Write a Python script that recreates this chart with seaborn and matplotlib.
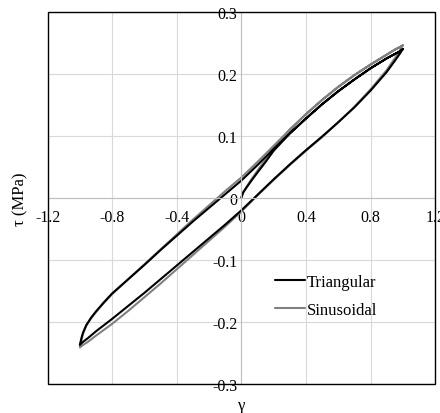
import pandas as pd
import matplotlib
matplotlib.use("Agg")
import matplotlib.pyplot as plt
import seaborn as sns
from matplotlib.patches import Rectangle

# strain points of each branch (initial loading, unloading, reloading)
init_gamma = [0.0, 0.01, 0.03, 0.06, 0.10, 0.15, 0.20]
unload_gamma = [1.00, 0.98, 0.95, 0.90, 0.80, 0.70, 0.60, 0.50, 0.40, 0.30, 0.20, 0.10, 0.00,
                -0.10, -0.20, -0.30, -0.40, -0.50, -0.60, -0.70, -0.80, -0.90, -0.95, -0.98, -1.00]
reload_gamma = [-1.00, -0.99, -0.98, -0.96, -0.93, -0.90, -0.85, -0.80, -0.70, -0.60, -0.50, -0.40,
                -0.30, -0.20, -0.10, 0.00, 0.10, 0.20, 0.30, 0.40, 0.50, 0.60, 0.70, 0.80, 0.90, 0.95, 0.98, 1.00]

# Triangular loading, shear stress (MPa)
tri_init = [0.000, 0.008, 0.016, 0.027, 0.041, 0.058, 0.076]
tri_unload = [0.240, 0.232, 0.221, 0.203, 0.173, 0.146, 0.122, 0.099, 0.077, 0.054, 0.030, 0.005, -0.020,
              -0.043, -0.065, -0.087, -0.109, -0.131, -0.153, -0.174, -0.195, -0.215, -0.226, -0.232, -0.237]
tri_reload = [-0.237, -0.226, -0.217, -0.205, -0.193, -0.183, -0.168, -0.154, -0.131, -0.108, -0.084, -0.061,
              -0.038, -0.016, 0.006, 0.028, 0.053, 0.079, 0.104, 0.128, 0.151, 0.172, 0.191, 0.209, 0.225, 0.232, 0.236, 0.240]

# Sinusoidal loading, shear stress (MPa)
sin_init = [0.000, 0.009, 0.017, 0.029, 0.044, 0.062, 0.081]
sin_unload = [0.246, 0.237, 0.225, 0.206, 0.175, 0.147, 0.122, 0.098, 0.076, 0.053, 0.029, 0.004, -0.022,
              -0.046, -0.069, -0.092, -0.115, -0.138, -0.160, -0.182, -0.203, -0.222, -0.232, -0.237, -0.241]
sin_reload = [-0.241, -0.229, -0.219, -0.206, -0.194, -0.184, -0.169, -0.155, -0.131, -0.107, -0.083, -0.059,
              -0.035, -0.012, 0.011, 0.033, 0.058, 0.084, 0.110, 0.135, 0.158, 0.179, 0.198, 0.215, 0.231, 0.239, 0.243, 0.246]

xticks = [-1.2, -0.8, -0.4, 0, 0.4, 0.8, 1.2]
xticklabels = ["-1.2", "-0.8", "-0.4", "0", "0.4", "0.8", "1.2"]
yticks = [-0.3, -0.2, -0.1, 0, 0.1, 0.2, 0.3]
yticklabels = ["-0.3", "-0.2", "-0.1", "0", "0.1", "0.2", "0.3"]

# initial loading joins the reloading curve from gamma = 0.3 up to the peak
join = reload_gamma.index(0.30)
path_gamma = init_gamma + reload_gamma[join:] + unload_gamma + reload_gamma
tri_tau = tri_init + tri_reload[join:] + tri_unload + tri_reload
sin_tau = sin_init + sin_reload[join:] + sin_unload + sin_reload

df = pd.concat([
    pd.DataFrame({"gamma": path_gamma, "tau": sin_tau, "load": "Sinusoidal"}),
    pd.DataFrame({"gamma": path_gamma, "tau": tri_tau, "load": "Triangular"}),
], ignore_index=True)

sns.set_style("white")
plt.rcParams["font.family"] = ["Liberation Serif", "DejaVu Serif"]
plt.rcParams["text.color"] = "black"
plt.rcParams["xtick.color"] = "black"
plt.rcParams["ytick.color"] = "black"
plt.rcParams["axes.labelcolor"] = "black"

fig = plt.figure(figsize=(4.4, 4.14), dpi=100)
ax = fig.add_axes([0.108, 0.070, 0.881, 0.899])

sns.lineplot(data=df, x="gamma", y="tau", hue="load", estimator=None, sort=False,
             palette={"Sinusoidal": "#808080", "Triangular": "#000000"},
             hue_order=["Sinusoidal", "Triangular"], linewidth=1.5, ax=ax)

ax.set_xlim(-1.2, 1.2)
ax.set_ylim(-0.3, 0.3)
ax.set_xticks(xticks)
ax.set_xticklabels(xticklabels)
ax.set_yticks(yticks)
ax.set_yticklabels(yticklabels)
ax.grid(True, color="#d9d9d9", linewidth=0.8)
ax.set_axisbelow(True)

# axes crossing at the origin
ax.spines["left"].set_position(("data", 0))
ax.spines["bottom"].set_position(("data", 0))
for s in ["left", "bottom"]:
    ax.spines[s].set_color("#bfbfbf")
    ax.spines[s].set_linewidth(0.8)
for s in ["top", "right"]:
    ax.spines[s].set_visible(False)
ax.add_patch(Rectangle((0, 0), 1, 1, transform=ax.transAxes, fill=False,
                       edgecolor="black", linewidth=1.0, clip_on=False, zorder=5))
ax.tick_params(axis="x", length=0, pad=8, labelsize=11.5)
ax.tick_params(axis="y", length=0, pad=3, labelsize=11.5)

ax.set_xlabel("γ", fontsize=12)
ax.set_ylabel("τ (MPa)", fontsize=12)
ax.xaxis.set_label_coords(0.5, -0.035)
ax.yaxis.set_label_coords(-0.05, 0.5)

handles, labels = ax.get_legend_handles_labels()
order = [labels.index("Triangular"), labels.index("Sinusoidal")]
ax.legend([handles[i] for i in order], [labels[i] for i in order], frameon=False, fontsize=12,
          loc="upper left", bbox_to_anchor=(0.57, 0.313), handlelength=1.8, handletextpad=0.1,
          labelspacing=0.7, borderaxespad=0)

fig.savefig("out.png", dpi=100)
